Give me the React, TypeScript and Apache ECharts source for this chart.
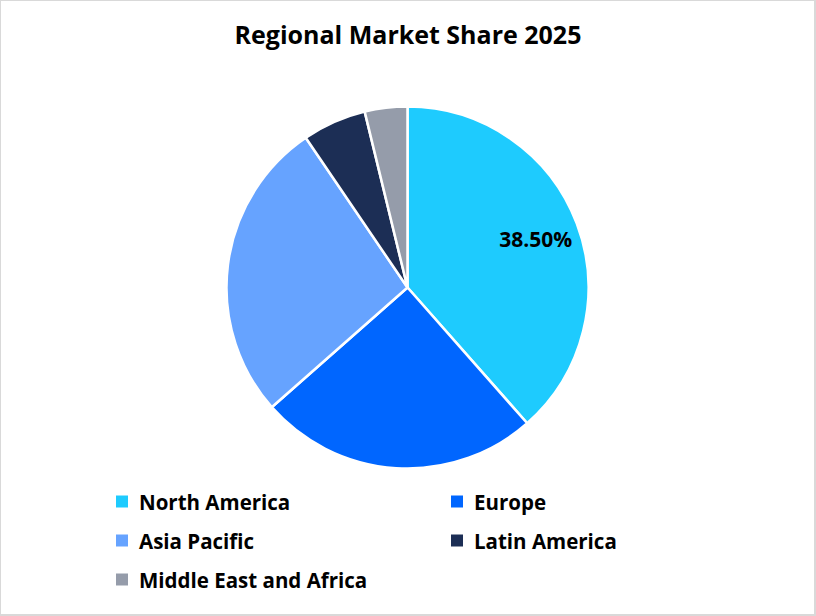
import React, { useEffect, useRef } from "react";
import * as echarts from "echarts";

const regions = ["North America", "Europe", "Asia Pacific", "Latin America", "Middle East and Africa"];
const shares = [38.5, 25.0, 27.0, 5.7, 3.8];
const colors = ["#1ECBFE", "#0066FF", "#66A3FF", "#1C2E55", "#959CAA"];
const labelledRegions = ["North America"];
const leftLegend = ["North America", "Asia Pacific", "Middle East and Africa"];
const rightLegend = ["Europe", "Latin America"];

const FONT = "'Open Sans', Lato, sans-serif";

export default function App() {
  const ref = useRef<HTMLDivElement>(null);
  useEffect(() => {
    document.body.style.margin = "0";
    if (!ref.current) return;
    const chart = echarts.init(ref.current, null, { renderer: "svg" });
    const data = regions.map((name, i) => ({
      name,
      value: shares[i],
      itemStyle: { color: colors[i] },
    }));
    const labelData = regions.map((name, i) => ({
      name,
      value: shares[i],
      label: { show: labelledRegions.includes(name) },
    }));
    const legendCommon = {
      orient: "vertical" as const,
      icon: "rect",
      itemWidth: 14,
      itemHeight: 14,
      itemGap: 18,
      padding: 0,
      selectedMode: false,
      textStyle: {
        fontFamily: FONT,
        fontWeight: "bold" as const,
        fontSize: 20.5,
        color: "#000",
        lineHeight: 21,
        padding: [0, 0, 0, 5],
      },
    };
    chart.setOption({
      animation: false,
      backgroundColor: "#fff",
      title: {
        text: "Regional Market Share 2025",
        left: "center",
        top: 16,
        textStyle: { fontFamily: FONT, fontWeight: "bold", fontSize: 25, color: "#000" },
      },
      legend: [
        { ...legendCommon, data: leftLegend, left: 114, top: 491 },
        { ...legendCommon, data: rightLegend, left: 449, top: 491 },
      ],
      series: [
        {
          type: "pie",
          center: [407.5, 287.5],
          radius: [0, 181],
          startAngle: 90,
          clockwise: true,
          silent: true,
          label: { show: false },
          labelLine: { show: false },
          itemStyle: { borderColor: "#fff", borderWidth: 2.5 },
          data,
        },
        {
          type: "pie",
          center: [407.5, 287.5],
          radius: [87, 181],
          startAngle: 90,
          clockwise: true,
          silent: true,
          legendHoverLink: false,
          itemStyle: { color: "rgba(0,0,0,0)" },
          label: {
            show: false,
            position: "inside",
            formatter: (p: any) => p.value.toFixed(2) + "%",
            fontFamily: FONT,
            fontWeight: "bold",
            fontSize: 21,
            color: "#000",
          },
          labelLine: { show: false },
          data: labelData,
        },
      ],
    });
    return () => chart.dispose();
  }, []);
  return (
    <div style={{ position: "relative", width: 816, height: 616 }}>
      <div ref={ref} style={{ position: "absolute", left: 0, top: 0, width: 816, height: 616 }} />
      <div
        style={{
          position: "absolute",
          left: 0,
          top: 0,
          width: 816,
          height: 616,
          boxSizing: "border-box",
          borderTop: "1px solid #d9d9d9",
          borderLeft: "1px solid #d9d9d9",
          borderRight: "2px solid #d9d9d9",
          borderBottom: "2px solid #d9d9d9",
          pointerEvents: "none",
        }}
      />
    </div>
  );
}
